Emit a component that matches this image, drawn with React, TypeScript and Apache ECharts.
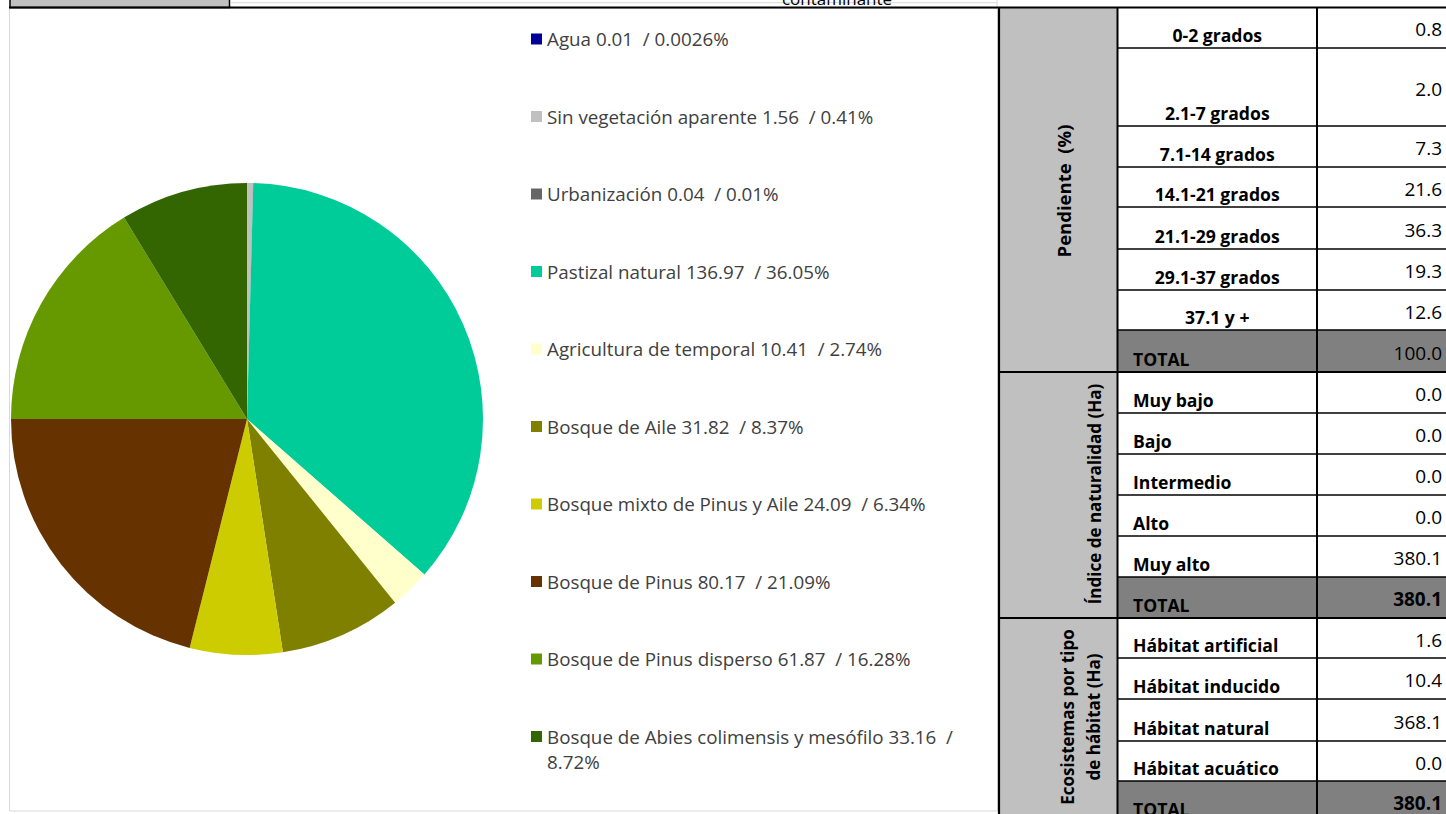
import React, { useEffect, useRef } from "react";
import * as echarts from "echarts";

// ---- Pie data: uso de suelo (Ha / %) ----
const landUseNames = [
  "Agua",
  "Sin vegetación aparente",
  "Urbanización",
  "Pastizal natural",
  "Agricultura de temporal",
  "Bosque de Aile",
  "Bosque mixto de Pinus y Aile",
  "Bosque de Pinus",
  "Bosque de Pinus disperso",
  "Bosque de Abies colimensis y mesófilo",
];
const landUseHa = [0.01, 1.56, 0.04, 136.97, 10.41, 31.82, 24.09, 80.17, 61.87, 33.16];
const landUsePct = ["0.0026%", "0.41%", "0.01%", "36.05%", "2.74%", "8.37%", "6.34%", "21.09%", "16.28%", "8.72%"];
const landUseColors = ["#000099", "#C0C0C0", "#666666", "#00CC99", "#FFFFCC", "#808000", "#CCCC00", "#663300", "#669900", "#336600"];

// ---- Table data ----
const slopeTitle = "Pendiente  (%)";
const slopeLabels = ["0-2 grados", "2.1-7 grados", "7.1-14 grados", "14.1-21 grados", "21.1-29 grados", "29.1-37 grados", "37.1 y +"];
const slopeValues = [0.8, 2.0, 7.3, 21.6, 36.3, 19.3, 12.6];
const slopeTotal = 100.0;

const naturalTitle = "Índice de naturalidad (Ha)";
const naturalLabels = ["Muy bajo", "Bajo", "Intermedio", "Alto", "Muy alto"];
const naturalValues = [0.0, 0.0, 0.0, 0.0, 380.1];
const naturalTotal = 380.1;

const habitatTitle = "Ecosistemas por tipo\nde hábitat (Ha)";
const habitatLabels = ["Hábitat artificial", "Hábitat inducido", "Hábitat natural", "Hábitat acuático"];
const habitatValues = [1.6, 10.4, 368.1, 0.0];
const habitatTotal = 380.1;

const totalLabel = "TOTAL";
const topCellText = "contaminante";

// ---- layout ----
const FONT = '"Open Sans", "DejaVu Sans", sans-serif';
const X0 = 999;
const X1 = 1117.5;
const X2 = 1317;
const XR = 1446;

function section(
  title: string,
  titleX: number,
  titleY: number,
  titleSize: number,
  labels: string[],
  values: number[],
  total: number,
  edges: number[],
  centered: boolean,
  boldTotal: boolean
) {
  const fills: any[] = [];
  const lines: any[] = [];
  const texts: any[] = [];
  const top = edges[0];
  const bottom = edges[edges.length - 1];
  const tTop = edges[edges.length - 2];
  fills.push({ type: "rect", shape: { x: X0, y: top, width: X1 - X0, height: bottom - top }, style: { fill: "#C0C0C0" } });
  fills.push({ type: "rect", shape: { x: X1, y: tTop, width: XR - X1, height: bottom - tTop }, style: { fill: "#808080" } });
  for (let i = 1; i < edges.length - 1; i++) {
    lines.push({ type: "line", shape: { x1: X1, y1: edges[i], x2: XR, y2: edges[i] }, style: { stroke: "#000", lineWidth: 1.5 } });
  }
  lines.push({ type: "line", shape: { x1: X0, y1: bottom, x2: XR, y2: bottom }, style: { stroke: "#000", lineWidth: 2 } });
  const allLabels = labels.concat([totalLabel]);
  const allValues = values.concat([total]);
  allLabels.forEach((lab, i) => {
    const y0 = edges[i];
    const y1 = edges[i + 1];
    const isTotal = i === allLabels.length - 1;
    const center = centered && !isTotal;
    texts.push({
      type: "text",
      x: center ? (X1 + X2) / 2 : 1133,
      y: y1 - 13,
      style: {
        text: lab,
        font: `bold 17.6px ${FONT}`,
        fill: "#000",
        align: center ? "center" : "left",
        verticalAlign: "middle",
      },
    });
    texts.push({
      type: "text",
      x: 1442,
      y: (y0 + y1) / 2 + 1.5,
      style: {
        text: allValues[i].toFixed(1),
        font: `${isTotal && boldTotal ? "bold " : ""}19px ${FONT}`,
        fill: "#000",
        align: "right",
        verticalAlign: "middle",
      },
    });
  });
  texts.push({
    type: "text",
    x: titleX,
    y: titleY,
    rotation: Math.PI / 2,
    style: {
      text: title,
      font: `bold ${titleSize}px ${FONT}`,
      fill: "#000",
      align: "center",
      verticalAlign: "middle",
      lineHeight: 26,
    },
  });
  return { fills, lines, texts };
}

export default function App() {
  const ref = useRef<HTMLDivElement>(null);
  useEffect(() => {
    if (!ref.current) return;
    document.body.style.margin = "0";
    const chart = echarts.init(ref.current, undefined, { renderer: "svg" });

    const s1 = section(slopeTitle, 1063, 191, 18.5, slopeLabels, slopeValues, slopeTotal, [7.5, 48, 126, 167, 207, 249, 290, 330, 372], true, false);
    const s2 = section(naturalTitle, 1094, 494, 17, naturalLabels, naturalValues, naturalTotal, [372, 413, 454, 495, 536, 577, 618], false, true);
    const s3 = section(habitatTitle, 1080, 717, 17, habitatLabels, habitatValues, habitatTotal, [618, 658, 699, 741, 781, 822], false, true);

    const elements: any[] = [
      // chart area
      { type: "rect", shape: { x: 9.5, y: 8.5, width: 988, height: 802.5 }, style: { fill: "#fff", stroke: "#D9D9D9", lineWidth: 1 } },
      // top strip of the sheet
      { type: "rect", shape: { x: 10, y: -6, width: 219.5, height: 13.5 }, style: { fill: "#C0C0C0", stroke: "#000", lineWidth: 1.5 } },
      { type: "line", shape: { x1: 230, y1: 2.7, x2: 997, y2: 2.7 }, style: { stroke: "#D9D9D9", lineWidth: 1 } },
      { type: "line", shape: { x1: 997, y1: 0, x2: 997, y2: 7 }, style: { stroke: "#D9D9D9", lineWidth: 1 } },
      {
        type: "text",
        x: 837,
        y: -2,
        style: { text: topCellText, font: `17px ${FONT}`, fill: "#000", align: "center", verticalAlign: "middle" },
      },
      ...s1.fills,
      ...s2.fills,
      ...s3.fills,
      ...s1.lines,
      ...s2.lines,
      ...s3.lines,
      { type: "line", shape: { x1: 9, y1: 7.5, x2: XR, y2: 7.5 }, style: { stroke: "#000", lineWidth: 2 } },
      { type: "line", shape: { x1: X0, y1: 7, x2: X0, y2: 814 }, style: { stroke: "#000", lineWidth: 2.2 } },
      { type: "line", shape: { x1: X1, y1: 7, x2: X1, y2: 814 }, style: { stroke: "#000", lineWidth: 2 } },
      { type: "line", shape: { x1: X2, y1: 7, x2: X2, y2: 814 }, style: { stroke: "#000", lineWidth: 2 } },
      ...s1.texts,
      ...s2.texts,
      ...s3.texts,
    ];

    const lastIdx = landUseNames.length - 1;
    chart.setOption({
      animation: false,
      backgroundColor: "#fff",
      graphic: { elements },
      legend: {
        orient: "vertical",
        left: 531,
        top: 1.5,
        padding: 0,
        itemWidth: 11,
        itemHeight: 11,
        itemGap: 2.5,
        icon: "rect",
        selectedMode: false,
        data: landUseNames,
        textStyle: { fontFamily: FONT, fontSize: 18.8, color: "#404040", lineHeight: 25 },
        formatter: (name: string) => {
          const i = landUseNames.indexOf(name);
          const main = `${name} ${landUseHa[i].toFixed(2)}  /`;
          if (i === lastIdx) return `\n${main}\n${landUsePct[i]}`;
          return `\n${main} ${landUsePct[i]}\n`;
        },
      },
      series: [
        {
          type: "pie",
          center: [247, 419],
          radius: 236,
          startAngle: 90,
          clockwise: true,
          silent: true,
          avoidLabelOverlap: false,
          label: { show: false },
          labelLine: { show: false },
          itemStyle: { borderWidth: 0 },
          emphasis: { disabled: true },
          data: landUseNames.map((n, i) => ({ name: n, value: landUseHa[i], itemStyle: { color: landUseColors[i] } })),
        },
      ],
    });
    return () => chart.dispose();
  }, []);
  return <div ref={ref} style={{ position: "fixed", left: 0, top: 0, width: 1446, height: 814 }} />;
}
